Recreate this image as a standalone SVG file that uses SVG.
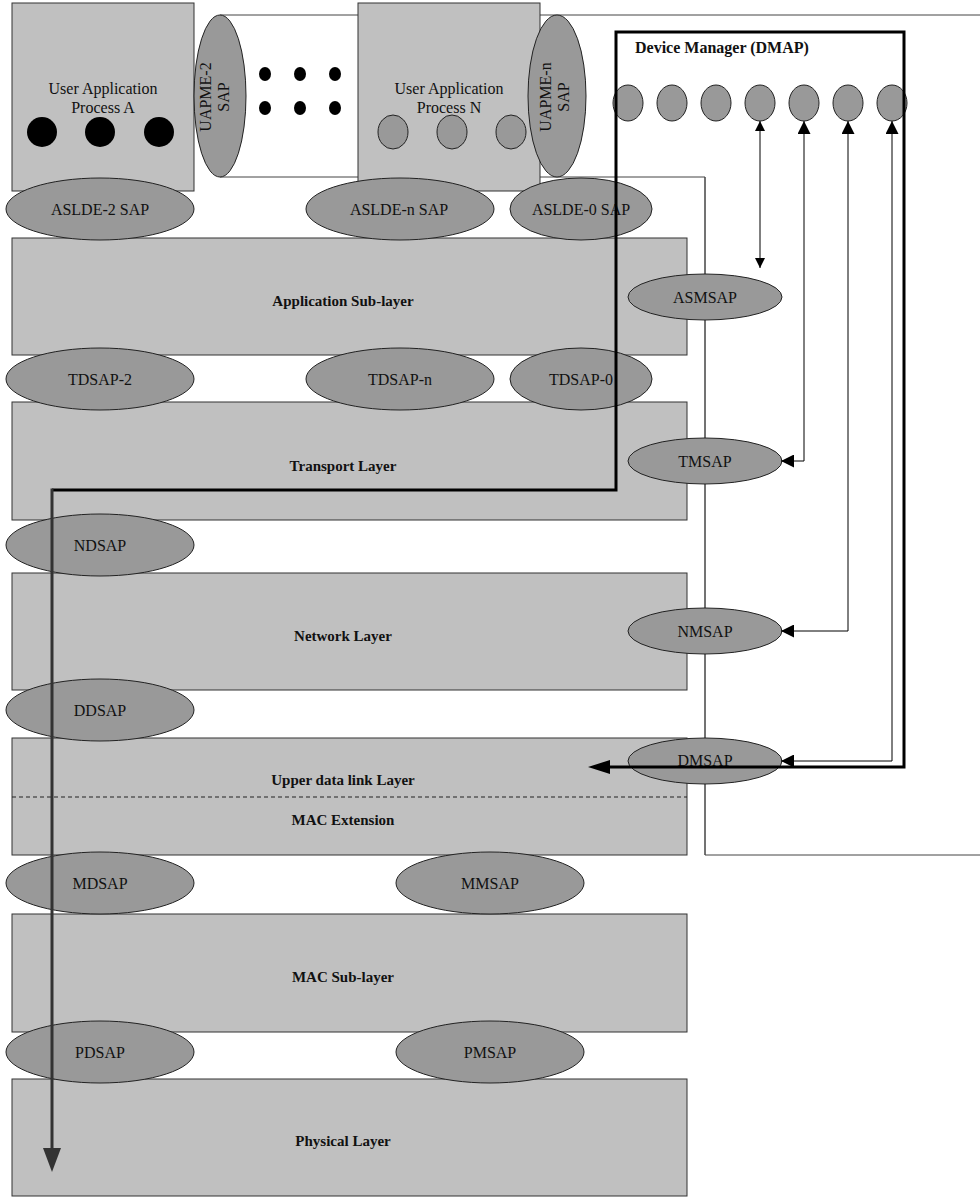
<svg xmlns="http://www.w3.org/2000/svg" width="980" height="1197" viewBox="0 0 980 1197">
<defs>
<style>
.box{fill:#c0c0c0;stroke:#333;stroke-width:1}
.sap{fill:#999;stroke:#222;stroke-width:1}
.t{font-family:"Liberation Serif",serif;font-size:16px;fill:#111;text-anchor:middle}
.b{font-family:"Liberation Serif",serif;font-size:15px;font-weight:bold;fill:#111;text-anchor:middle}
.thin{fill:none;stroke:#000;stroke-width:1}
</style>
<marker id="ah" viewBox="0 0 10 10" refX="10" refY="5" markerWidth="10" markerHeight="10" markerUnits="userSpaceOnUse" orient="auto-start-reverse"><path d="M0,0 L10,5 L0,10 Z" fill="#000"/></marker>
<marker id="ah2" viewBox="0 0 10 10" refX="10" refY="5" markerWidth="16" markerHeight="13" markerUnits="userSpaceOnUse" orient="auto-start-reverse"><path d="M0,0 L10,5 L0,10 Z" fill="#000"/></marker>
</defs>
<rect width="980" height="1197" fill="#fff"/>

<g id="mgmt-region">
<path d="M220,15 H982 V855 H705 V177 H220" fill="none" stroke="#444" stroke-width="1"/>
</g>

<g id="uap-a">
<rect class="box" x="12" y="3" width="182" height="188"/>
<text class="t" x="103" y="94">User Application</text>
<text class="t" x="103" y="113">Process A</text>
<circle cx="42" cy="132" r="15" fill="#000"/>
<circle cx="100" cy="132" r="15" fill="#000"/>
<circle cx="159" cy="132" r="15" fill="#000"/>
</g>

<g id="uapme-2">
<ellipse class="sap" cx="220" cy="96" rx="26" ry="81"/>
<text class="t" transform="translate(211,97) rotate(-90)">UAPME-2</text>
<text class="t" transform="translate(229,97) rotate(-90)">SAP</text>
</g>

<g id="dots">
<ellipse cx="265" cy="74" rx="6" ry="7" fill="#000"/>
<ellipse cx="300" cy="74" rx="6" ry="7" fill="#000"/>
<ellipse cx="335" cy="74" rx="6" ry="7" fill="#000"/>
<ellipse cx="265" cy="108" rx="6" ry="7" fill="#000"/>
<ellipse cx="300" cy="108" rx="6" ry="7" fill="#000"/>
<ellipse cx="335" cy="108" rx="6" ry="7" fill="#000"/>
</g>

<g id="uap-n">
<rect class="box" x="358" y="3" width="182" height="188"/>
<text class="t" x="449" y="94">User Application</text>
<text class="t" x="449" y="113">Process N</text>
<ellipse class="sap" cx="393" cy="132" rx="15" ry="17"/>
<ellipse class="sap" cx="452" cy="132" rx="15" ry="17"/>
<ellipse class="sap" cx="511" cy="132" rx="15" ry="17"/>
</g>

<g id="uapme-n">
<ellipse class="sap" cx="557" cy="96" rx="29" ry="81"/>
<text class="t" transform="translate(551,97) rotate(-90)">UAPME-n</text>
<text class="t" transform="translate(569,97) rotate(-90)">SAP</text>
</g>

<g id="app-sublayer">
<rect class="box" x="12" y="238" width="675" height="117"/>
<text class="b" x="343" y="306">Application Sub-layer</text>
</g>
<g id="transport">
<rect class="box" x="12" y="402" width="675" height="118"/>
<text class="b" x="343" y="471">Transport Layer</text>
</g>
<g id="network">
<rect class="box" x="12" y="573" width="675" height="117"/>
<text class="b" x="343" y="641">Network Layer</text>
</g>
<g id="upper-dl">
<rect class="box" x="12" y="738" width="675" height="117"/>
<line x1="12" y1="797" x2="687" y2="797" stroke="#222" stroke-dasharray="4,3"/>
<text class="b" x="343" y="785">Upper data link Layer</text>
<text class="b" x="343" y="825">MAC Extension</text>
</g>
<g id="mac">
<rect class="box" x="12" y="914" width="675" height="118"/>
<text class="b" x="343" y="982">MAC Sub-layer</text>
</g>
<g id="phy">
<rect class="box" x="12" y="1079" width="675" height="117"/>
<text class="b" x="343" y="1146">Physical Layer</text>
</g>

<g id="vline">
<line x1="705" y1="177" x2="705" y2="855" stroke="#444"/>
</g>

<g id="aslde-2"><ellipse class="sap" cx="100" cy="209" rx="94" ry="31"/><text class="t" x="100" y="215">ASLDE-2 SAP</text></g>
<g id="aslde-n"><ellipse class="sap" cx="400" cy="209" rx="94" ry="31"/><text class="t" x="399" y="215">ASLDE-n SAP</text></g>
<g id="aslde-0"><ellipse class="sap" cx="581" cy="209" rx="71" ry="31"/><text class="t" x="581" y="215">ASLDE-0 SAP</text></g>
<g id="asmsap"><ellipse class="sap" cx="705" cy="297" rx="77" ry="23"/><text class="t" x="705" y="303">ASMSAP</text></g>
<g id="tdsap-2"><ellipse class="sap" cx="100" cy="379" rx="94" ry="31"/><text class="t" x="100" y="385">TDSAP-2</text></g>
<g id="tdsap-n"><ellipse class="sap" cx="400" cy="379" rx="94" ry="31"/><text class="t" x="400" y="385">TDSAP-n</text></g>
<g id="tdsap-0"><ellipse class="sap" cx="581" cy="379" rx="71" ry="31"/><text class="t" x="581" y="385">TDSAP-0</text></g>
<g id="tmsap"><ellipse class="sap" cx="705" cy="461" rx="77" ry="23"/><text class="t" x="705" y="467">TMSAP</text></g>
<g id="ndsap"><ellipse class="sap" cx="100" cy="545" rx="94" ry="31"/><text class="t" x="100" y="551">NDSAP</text></g>
<g id="nmsap"><ellipse class="sap" cx="705" cy="631" rx="77" ry="23"/><text class="t" x="705" y="637">NMSAP</text></g>
<g id="ddsap"><ellipse class="sap" cx="100" cy="710" rx="94" ry="31"/><text class="t" x="100" y="716">DDSAP</text></g>
<g id="dmsap"><ellipse class="sap" cx="705" cy="761" rx="77" ry="23"/><text class="t" x="705" y="766">DMSAP</text></g>
<g id="mdsap"><ellipse class="sap" cx="100" cy="883" rx="94" ry="31"/><text class="t" x="100" y="889">MDSAP</text></g>
<g id="mmsap"><ellipse class="sap" cx="490" cy="883" rx="94" ry="31"/><text class="t" x="490" y="889">MMSAP</text></g>
<g id="pdsap"><ellipse class="sap" cx="100" cy="1052" rx="94" ry="31"/><text class="t" x="100" y="1058">PDSAP</text></g>
<g id="pmsap"><ellipse class="sap" cx="490" cy="1052" rx="94" ry="31"/><text class="t" x="490" y="1058">PMSAP</text></g>

<g id="dmap">
<text x="635" y="53" font-family="Liberation Serif,serif" font-size="16" font-weight="bold" fill="#111">Device Manager (DMAP)</text>
<ellipse class="sap" cx="628" cy="103" rx="15" ry="18"/>
<ellipse class="sap" cx="672" cy="103" rx="15" ry="18"/>
<ellipse class="sap" cx="716" cy="103" rx="15" ry="18"/>
<ellipse class="sap" cx="760" cy="103" rx="15" ry="18"/>
<ellipse class="sap" cx="804" cy="103" rx="15" ry="18"/>
<ellipse class="sap" cx="848" cy="103" rx="15" ry="18"/>
<ellipse class="sap" cx="892" cy="103" rx="15" ry="18"/>
</g>

<g id="connectors">
<line class="thin" x1="760" y1="121" x2="760" y2="268" marker-start="url(#ah)" marker-end="url(#ah)"/>
<path class="thin" d="M804,121 V461 H781" marker-start="url(#ah2)" marker-end="url(#ah2)"/>
<path class="thin" d="M848,121 V631 H781" marker-start="url(#ah2)" marker-end="url(#ah2)"/>
<path class="thin" d="M892,121 V761 H781" marker-start="url(#ah2)" marker-end="url(#ah2)"/>
<path d="M52,490 H616 V32 H904 V767 H610" fill="none" stroke="#000" stroke-width="3"/>
<path d="M610,760 L588,767 L610,774 Z" fill="#000"/>
<line x1="52" y1="488.5" x2="52" y2="1150" stroke="#333" stroke-width="3"/>
<path d="M43,1148 L52,1172 L61,1148 Z" fill="#333"/>
</g>
</svg>
